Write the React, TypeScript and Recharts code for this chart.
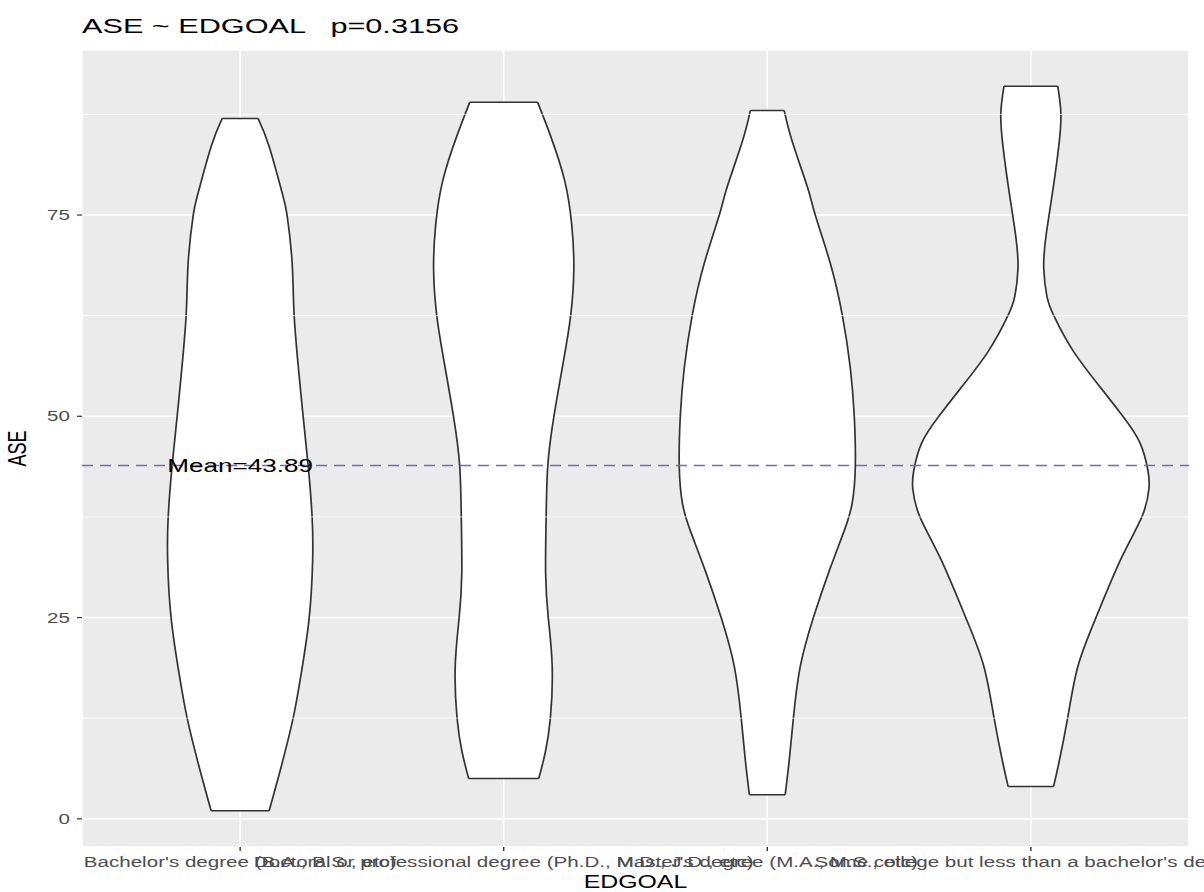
import React from 'react';
import {
  ComposedChart,
  Area,
  XAxis,
  YAxis,
  CartesianGrid,
  ReferenceLine,
  ReferenceDot,
} from 'recharts';

// categories on the x axis (ggplot discrete positions 1..4)
const categories = [
  "Bachelor's degree (B.A., B.S., etc)",
  'Doctoral or professional degree (Ph.D., M.D., J.D., etc)',
  "Master's degree (M.A., M.S., etc)",
  "Some college but less than a bachelor's degree",
];
const categoryPos = [1, 2, 3, 4];

const yTicks = [0, 25, 50, 75];
const minorBreaks = [12.5, 37.5, 62.5, 87.5];
const meanASE = 43.89;
const pValue = '0.3156';

// violin outlines: ASE level + half width (category units)
const bachelorAse = [1, 6.5, 12.5, 17.9, 25, 32.1, 37.5, 43.9, 50, 55, 62.5, 69.2, 75, 77.8, 83.5, 87];
const bachelorHalf = [0.11, 0.156, 0.201, 0.231, 0.262, 0.275, 0.273, 0.258, 0.239, 0.224, 0.205, 0.197, 0.178, 0.159, 0.11, 0.068];

const doctoralAse = [5, 8.3, 12.5, 18.9, 25, 30.5, 37.5, 43.8, 49.9, 57.1, 62.5, 68.2, 73.8, 79.3, 84.8, 89];
const doctoralHalf = [0.133, 0.158, 0.177, 0.184, 0.169, 0.159, 0.161, 0.167, 0.19, 0.228, 0.254, 0.266, 0.258, 0.231, 0.178, 0.129];

const mastersAse = [3, 7.2, 12.5, 18.9, 25, 30.8, 35.8, 39.2, 43.8, 50, 56, 62.5, 69, 75, 78.5, 84.1, 88];
const mastersHalf = [0.068, 0.083, 0.099, 0.125, 0.175, 0.235, 0.292, 0.322, 0.334, 0.33, 0.315, 0.285, 0.239, 0.182, 0.152, 0.095, 0.064];

const someCollegeAse = [4, 6.9, 12.6, 18.9, 25, 32.5, 37.5, 41, 43.3, 46.7, 50, 53.5, 58.1, 62.5, 64.9, 68.3, 72.3, 78, 83.6, 87.6, 91];
const someCollegeHalf = [0.086, 0.106, 0.14, 0.178, 0.247, 0.345, 0.421, 0.448, 0.444, 0.414, 0.349, 0.266, 0.161, 0.087, 0.061, 0.049, 0.057, 0.083, 0.106, 0.114, 0.102];

const violins = [
  { ase: bachelorAse, half: bachelorHalf },
  { ase: doctoralAse, half: doctoralHalf },
  { ase: mastersAse, half: mastersHalf },
  { ase: someCollegeAse, half: someCollegeHalf },
].map((v, i) => ({
  rows: v.ase.map((a, j) => ({
    ase: a,
    range: [categoryPos[i] - v.half[j], categoryPos[i] + v.half[j]],
  })),
}));

// the reference picture is stretched sideways, so text is too
const STRETCH = 1.42;
const FONT = '"Liberation Sans", Arial, Helvetica, sans-serif';

const XTick = (props: any) => {
  const { x, y, payload } = props;
  const label = categories[categoryPos.indexOf(payload.value)];
  return (
    <g transform={`translate(${x},${y})`}>
      <text
        transform={`scale(${STRETCH},1)`}
        textAnchor="middle"
        dy="0.71em"
        fontSize={14.5}
        fontFamily={FONT}
        fill="#4D4D4D"
      >
        {label}
      </text>
    </g>
  );
};

const YTick = (props: any) => {
  const { x, y, payload } = props;
  return (
    <g transform={`translate(${x},${y})`}>
      <text
        transform={`scale(${STRETCH},1)`}
        textAnchor="end"
        dy="0.355em"
        fontSize={14.5}
        fontFamily={FONT}
        fill="#4D4D4D"
      >
        {payload.value}
      </text>
    </g>
  );
};

const MeanLabel = (props: any) => {
  const { cx, cy } = props;
  return (
    <g transform={`translate(${cx},${cy})`}>
      <text
        transform={`scale(1.41,1)`}
        textAnchor="middle"
        dy="0.36em"
        fontSize={18.5}
        fontFamily={FONT}
        fill="#000000"
      >
        {`Mean=${meanASE}`}
      </text>
    </g>
  );
};

export default function App() {
  return (
    <div style={{ position: 'absolute', left: 0, top: 0, width: 1204, height: 892, background: '#FFFFFF' }}>
      <ComposedChart
        layout="vertical"
        width={1204}
        height={892}
        margin={{ top: 50, right: 15, bottom: 0, left: 0 }}
      >
        <CartesianGrid fill="#EBEBEB" stroke="#FFFFFF" strokeWidth={1.6} />
        <XAxis
          type="number"
          domain={[0.4, 4.6]}
          allowDataOverflow
          ticks={categoryPos}
          interval={0}
          height={45}
          axisLine={false}
          tickSize={4}
          tickMargin={6}
          tickLine={{ stroke: '#333333', strokeWidth: 1.4 }}
          tick={<XTick />}
        />
        <YAxis
          type="number"
          dataKey="ase"
          domain={[-3.5, 95.5]}
          reversed
          allowDataOverflow
          ticks={yTicks}
          interval={0}
          width={82}
          axisLine={false}
          tickSize={5}
          tickMargin={7}
          tickLine={{ stroke: '#333333', strokeWidth: 1.2 }}
          tick={<YTick />}
        />
        {minorBreaks.map((b) => (
          <ReferenceLine key={b} y={b} stroke="#FFFFFF" strokeWidth={0.7} />
        ))}
        {violins.map((v, i) => (
          <Area
            key={i}
            data={v.rows}
            dataKey="range"
            type="natural"
            stroke="#333333"
            strokeWidth={1.7}
            fill="#FFFFFF"
            fillOpacity={1}
            dot={false}
            activeDot={false}
            isAnimationActive={false}
          />
        ))}
        {violins.map((v, i) => {
          const first = v.rows[0];
          const last = v.rows[v.rows.length - 1];
          return [first, last].map((r, k) => (
            <ReferenceLine
              key={`cap-${i}-${k}`}
              segment={[
                { x: r.range[0], y: r.ase },
                { x: r.range[1], y: r.ase },
              ]}
              stroke="#333333"
              strokeWidth={1.5}
            />
          ));
        })}
        <ReferenceLine
          y={meanASE}
          stroke="#6E6EB4"
          strokeWidth={1.3}
          strokeDasharray="11 7"
        />
        <ReferenceDot x={categoryPos[0]} y={meanASE} r={0} shape={<MeanLabel />} />
      </ComposedChart>
      <svg
        width={1204}
        height={892}
        style={{ position: 'absolute', left: 0, top: 0, pointerEvents: 'none' }}
      >
        <text
          transform={`translate(82,33) scale(1.46,1)`}
          fontSize={21}
          fontFamily={FONT}
          fill="#000000"
          style={{ whiteSpace: 'pre' }}
        >
          {`ASE ~ EDGOAL   p=${pValue}`}
        </text>
        <text
          transform={`translate(635.5,888) scale(1.38,1)`}
          textAnchor="middle"
          fontSize={18}
          fontFamily={FONT}
          fill="#000000"
        >
          EDGOAL
        </text>
        <text
          transform={`translate(26,448.5) scale(1.38,1) rotate(-90)`}
          textAnchor="middle"
          fontSize={18}
          fontFamily={FONT}
          fill="#000000"
        >
          ASE
        </text>
      </svg>
    </div>
  );
}
